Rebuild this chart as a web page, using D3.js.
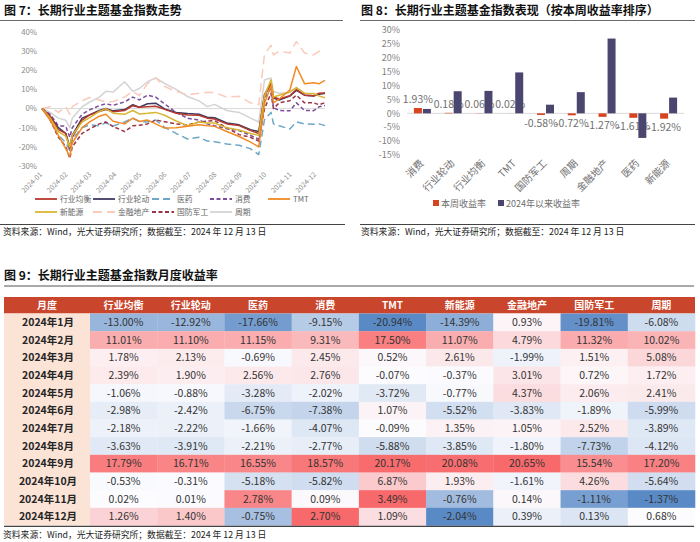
<!DOCTYPE html>
<html><head><meta charset="utf-8">
<script src="https://cdn.jsdelivr.net/npm/d3@7"></script>
<style>
body{margin:0;background:#fff;}
text{font-family:"Noto Sans CJK SC","Noto Sans",sans-serif;}
</style>
</head><body>
<svg id="c" width="700" height="542"></svg>
<script>
// ---------- Figure 7 data: cumulative return (%) ----------
const lineDates = ["2024-01-02","2024-01-12","2024-01-22","2024-01-31","2024-02-05","2024-02-08","2024-02-20","2024-02-29",
 "2024-03-12","2024-03-20","2024-03-29","2024-04-12","2024-04-22","2024-04-30","2024-05-10","2024-05-20","2024-05-31",
 "2024-06-14","2024-06-28","2024-07-12","2024-07-22","2024-07-31","2024-08-15","2024-08-30","2024-09-13","2024-09-23",
 "2024-09-30","2024-10-08","2024-10-11","2024-10-18","2024-10-31","2024-11-08","2024-11-18","2024-11-29","2024-12-06","2024-12-13"];
const seriesNames = ["行业均衡","行业轮动","医药","消费","TMT","新能源","金融地产","国防军工","周期"];
const cumHYJH = [0,-4,-11,-13.0,-21,-15,-6,-3.4,-1.5,-0.5,-1.7,-1.0,1.5,0.7,1.0,1.2,-0.4,-2.5,-3.4,-3.5,-5.0,-5.5,-8.0,-8.9,-11.5,-13.0,7.3,13.5,6.0,5.0,6.7,10.0,7.0,6.7,8.0,8.1];
const cumHYLD = [0,-4,-10,-12.9,-20,-14,-5,-3.3,-1.0,0.0,-1.2,-0.5,2.0,0.7,2.5,2.8,-0.2,-2.0,-2.6,-3.0,-4.5,-4.8,-7.5,-8.5,-11.0,-12.0,6.8,13.0,5.5,4.5,6.5,9.5,7.0,6.5,7.5,8.0];
const cumYY   = [0,-6,-14,-17.7,-22,-16,-10,-8.5,-9.0,-7.5,-9.1,-7.0,-5.0,-6.8,-7.0,-6.0,-9.8,-13.0,-15.9,-15.0,-17.0,-17.3,-18.5,-19.2,-21.0,-24.0,-5.8,-2.0,-8.0,-9.0,-10.7,-7.0,-8.0,-8.2,-8.0,-8.9];
const cumXF   = [0,-3,-9,-9.2,-15,-10,-3,-0.7,1.5,2.5,1.7,3.5,6.0,4.5,7.0,6.0,2.4,-2.0,-5.1,-6.0,-8.0,-9.0,-10.5,-11.5,-14.0,-16.0,4.9,11.0,0.5,-1.0,-1.2,3.0,-1.0,-1.1,1.0,1.6];
const cumTMT  = [0,-6,-14,-20.9,-25,-18,-10,-7.1,-4.0,-3.0,-6.6,-8.0,-5.0,-6.7,-6.0,-8.0,-10.2,-10.0,-9.2,-8.5,-9.0,-9.3,-12.0,-14.6,-17.5,-20.0,2.6,12.0,3.0,5.0,9.7,22.0,13.0,13.5,13.0,14.7];
const cumXNY  = [0,-5,-12,-14.4,-20,-14,-7,-4.9,-1.5,0.0,-2.4,-3.0,-1.0,-2.8,-2.5,-2.0,-3.5,-6.5,-8.9,-7.0,-7.5,-7.6,-10.0,-11.2,-13.0,-14.0,6.6,15.0,6.0,7.0,8.7,11.0,8.0,7.9,6.5,5.7];
const cumJRDC = [0,1,-2,0.9,-3,1,4,5.8,4.5,3.5,3.7,6.0,9.0,6.8,13.0,16.0,11.5,9.0,7.2,8.0,8.5,8.3,6.0,6.4,3.0,2.0,28.3,33.0,28.0,30.0,29.0,35.0,29.0,28.0,30.0,29.0];
const cumGFJG = [0,-6,-15,-19.8,-26,-20,-13,-10.7,-8.0,-7.0,-9.4,-12.0,-9.0,-8.7,-8.0,-6.0,-6.9,-8.0,-8.6,-7.0,-6.5,-6.3,-10.0,-13.6,-15.0,-17.0,-0.1,8.0,0.0,3.0,4.1,7.0,3.0,3.0,2.0,3.1];
const cumZQ   = [0,-2,-5,-6.1,-10,-5,1,3.3,6.0,9.0,8.6,14.0,9.0,10.5,14.0,16.0,13.1,10.0,6.3,4.0,1.0,2.2,-1.0,-2.0,-5.0,-7.0,14.9,16.0,9.0,8.0,8.4,11.0,8.0,6.9,8.0,7.6];
const fig7YTicks = [40,30,20,10,0,-10,-20,-30];
const fig7Months = ["2024-01","2024-02","2024-03","2024-04","2024-05","2024-06","2024-07","2024-08","2024-09","2024-10","2024-11","2024-12"];

// ---------- Figure 8 data ----------
const barCats = ["消费","行业轮动","行业均衡","TMT","国防军工","周期","金融地产","医药","新能源"];
const weekRet = [1.93,0.18,0.06,0.02,-0.58,-0.72,-1.27,-1.61,-1.92];
const ytdRet  = [1.58,7.96,8.08,14.73,3.11,7.63,26.92,-8.85,5.67];
const fig8YTicks = [30,25,20,15,10,5,0,-5,-10,-15];

// ---------- Figure 9 data: monthly returns (%) ----------
const months = ["2024年1月","2024年2月","2024年3月","2024年4月","2024年5月","2024年6月","2024年7月","2024年8月","2024年9月","2024年10月","2024年11月","2024年12月"];
const tableCols = ["行业均衡","行业轮动","医药","消费","TMT","新能源","金融地产","国防军工","周期"];
const mHYJH = [-13.00,11.01,1.78,2.39,-1.06,-2.98,-2.18,-3.63,17.79,-0.53,0.02,1.26];
const mHYLD = [-12.92,11.10,2.13,1.90,-0.88,-2.42,-2.22,-3.91,16.71,-0.31,0.01,1.40];
const mYY   = [-17.66,11.15,-0.69,2.56,-3.28,-6.75,-1.66,-2.21,16.55,-5.18,2.78,-0.75];
const mXF   = [-9.15,9.31,2.45,2.76,-2.02,-7.38,-4.07,-2.77,18.57,-5.82,0.09,2.70];
const mTMT  = [-20.94,17.50,0.52,-0.07,-3.72,1.07,-0.09,-5.88,20.17,6.87,3.49,1.09];
const mXNY  = [-14.39,11.07,2.61,-0.37,-0.77,-5.52,1.35,-3.85,20.08,1.93,-0.76,-2.04];
const mJRDC = [0.93,4.79,-1.99,3.01,4.37,-3.83,1.05,-1.80,20.65,-1.61,0.14,0.39];
const mGFJG = [-19.81,11.32,1.51,0.72,2.06,-1.89,2.52,-7.73,15.54,4.26,-1.11,0.13];
const mZQ   = [-6.08,10.02,5.08,1.72,2.41,-5.99,-3.89,-4.12,17.20,-5.64,-1.37,0.68];

const sourceText = "资料来源：Wind，光大证券研究所；数据截至：2024 年 12 月 13 日";

// ---------- drawing ----------
const svg = d3.select("#c");
svg.append("rect").attr("width",700).attr("height",542).attr("fill","#fff");

function titleBlock(x, y, txt){
  svg.append("text").attr("x",x).attr("y",y).attr("font-size",12).attr("font-weight","bold").attr("fill","#111").text(txt);
}
function rule(x1,x2,y,col,wd){
  svg.append("line").attr("x1",x1).attr("x2",x2).attr("y1",y).attr("y2",y).attr("stroke",col).attr("stroke-width",wd);
}
function source(x,y){
  svg.append("text").attr("x",x).attr("y",y).attr("font-size",8.8).attr("fill","#222").text(sourceText);
}

// ===== Figure 7 =====
titleBlock(4,15,"图 7：长期行业主题基金指数走势");
rule(0,343,20.5,"#6b6b6b",1);
const parse = d3.timeParse("%Y-%m-%d");
const dts = lineDates.map(parse);
const x7 = d3.scaleTime().domain([dts[0], dts[dts.length-1]]).range([42,325]);
const y7 = d3.scaleLinear().domain([-30,40]).range([166,32]);
const g7 = svg.append("g");
g7.selectAll("text.yt").data(fig7YTicks).enter().append("text")
  .attr("x",37).attr("y",d=>y7(d)+2.8).attr("text-anchor","end").attr("font-size",7.8).attr("fill","#8a8a8a")
  .text(d=>d+"%");
g7.append("line").attr("x1",42).attr("x2",325).attr("y1",y7(0)).attr("y2",y7(0)).attr("stroke","#d9d9d9").attr("stroke-width",1);
g7.selectAll("text.xt").data(fig7Months).enter().append("text")
  .attr("text-anchor","end").attr("font-size",7).attr("fill","#8a8a8a")
  .attr("transform",d=>{const xx=x7(d3.timeParse("%Y-%m")(d))+1.5; return `translate(${xx},175) rotate(-45)`;})
  .text(d=>d);

const seriesData = [cumHYJH,cumHYLD,cumYY,cumXF,cumTMT,cumXNY,cumJRDC,cumGFJG,cumZQ];
const seriesStyle = [
  {c:"#b8372b",d:null},{c:"#3e3a60",d:null},{c:"#6ea7c6",d:"7,4"},{c:"#7b4d9b",d:"4,2.5"},
  {c:"#f28a24",d:null},{c:"#d8b632",d:null},{c:"#f8cbbb",d:"9,5"},{c:"#9b3446",d:"4,2.5"},{c:"#d4d4d4",d:null}
];
const drawOrder = [8,6,2,7,3,1,0,5,4];
const lineGen = d3.line().x((d,i)=>x7(dts[i])).y(d=>y7(d));
drawOrder.forEach(k=>{
  g7.append("path").attr("d",lineGen(seriesData[k])).attr("fill","none")
    .attr("stroke",seriesStyle[k].c).attr("stroke-width",1.5)
    .attr("stroke-dasharray",seriesStyle[k].d).attr("stroke-linejoin","round");
});
// legend
const legPos = [[35,199],[93,199],[152,199],[210,199],[268,199],[35,212],[93,212],[152,212],[210,212]];
seriesNames.forEach((n,k)=>{
  const [lx,ly]=legPos[k];
  g7.append("line").attr("x1",lx).attr("x2",lx+22).attr("y1",ly).attr("y2",ly)
    .attr("stroke",seriesStyle[k].c).attr("stroke-width",1.8).attr("stroke-dasharray",seriesStyle[k].d);
  g7.append("text").attr("x",lx+25).attr("y",ly+2.8).attr("font-size",7.8).attr("fill","#666").text(n);
});
rule(0,345,224.5,"#444",1.2);
source(3,235);

// ===== Figure 8 =====
titleBlock(361,15,"图 8：长期行业主题基金指数表现（按本周收益率排序）");
rule(360,695,20.5,"#6b6b6b",1);
const x8 = d3.scaleBand().domain(barCats).range([407,684]).paddingInner(0).paddingOuter(0);
const y8 = d3.scaleLinear().domain([-15,30]).range([155,30]);
const g8 = svg.append("g");
g8.selectAll("text.yt").data(fig8YTicks).enter().append("text")
  .attr("x",400).attr("y",d=>y8(d)+3.2).attr("text-anchor","end").attr("font-size",9).attr("fill","#7f7f7f")
  .text(d=>d+"%");
g8.append("line").attr("x1",407).attr("x2",684).attr("y1",y8(0)).attr("y2",y8(0)).attr("stroke","#d9d9d9").attr("stroke-width",1);
const bw = 8;
const cx = c => x8(c)+x8.bandwidth()/2;
g8.selectAll("rect.wk").data(barCats).enter().append("rect")
  .attr("x",(c)=>cx(c)-bw-0.5).attr("width",bw)
  .attr("y",(c,i)=>y8(Math.max(0,weekRet[i]))).attr("height",(c,i)=>Math.abs(y8(weekRet[i])-y8(0)))
  .attr("fill","#d6451f");
g8.selectAll("text.lb").data(barCats).enter().append("text")
  .attr("x",c=>cx(c)-bw/2-0.5)
  .attr("y",(c,i)=>weekRet[i]>=0 ? y8(weekRet[i])-5 : y8(weekRet[i])+12)
  .attr("text-anchor","middle").attr("font-size",10.5).attr("fill","#6f6f6f")
  .text((c,i)=>weekRet[i].toFixed(2)+"%");
g8.selectAll("rect.ytd").data(barCats).enter().append("rect")
  .attr("x",(c)=>cx(c)+0.5).attr("width",bw)
  .attr("y",(c,i)=>y8(Math.max(0,ytdRet[i]))).attr("height",(c,i)=>Math.abs(y8(ytdRet[i])-y8(0)))
  .attr("fill","#4a4670");
g8.selectAll("text.xt").data(barCats).enter().append("text")
  .attr("text-anchor","end").attr("font-size",10).attr("fill","#6f6f6f")
  .attr("transform",c=>`translate(${cx(c)+2},164) rotate(-45)`).text(c=>c);
// legend
g8.append("rect").attr("x",433).attr("y",200).attr("width",6).attr("height",6).attr("fill","#d6451f");
g8.append("text").attr("x",441).attr("y",206.5).attr("font-size",9).attr("fill","#6f6f6f").text("本周收益率");
g8.append("rect").attr("x",498).attr("y",200).attr("width",6).attr("height",6).attr("fill","#4a4670");
g8.append("text").attr("x",506).attr("y",206.5).attr("font-size",9).attr("fill","#6f6f6f").text("2024年以来收益率");
rule(360,695,224.5,"#444",1.2);
source(361,235);

// ===== Figure 9 =====
titleBlock(4,280,"图 9：长期行业主题基金指数月度收益率");
rule(4,694,286,"#555",1);
const colData = [mHYJH,mHYLD,mYY,mXF,mTMT,mXNY,mJRDC,mGFJG,mZQ];
const tx0 = 4, firstW = 86, tx1 = 695;
const xc = d3.scaleBand().domain(tableCols).range([tx0+firstW, tx1]);
const headTop = 297, headH = 16.5;
const yr = d3.scaleBand().domain(months).range([headTop+headH, 525.5]);
const g9 = svg.append("g");
// header
g9.append("rect").attr("x",tx0).attr("y",headTop).attr("width",tx1-tx0).attr("height",headH).attr("fill","#c9452c");
g9.append("text").attr("x",tx0+firstW/2).attr("y",headTop+headH/2+3.6).attr("text-anchor","middle")
  .attr("font-size",10).attr("font-weight","bold").attr("fill","#fff").text("月度");
g9.selectAll("text.hd").data(tableCols).enter().append("text")
  .attr("x",c=>xc(c)+xc.bandwidth()/2).attr("y",headTop+headH/2+3.6).attr("text-anchor","middle")
  .attr("font-size",10).attr("font-weight","bold").attr("fill","#fff").text(c=>c);
// first column
g9.append("rect").attr("x",tx0).attr("y",headTop+headH).attr("width",firstW).attr("height",525.5-headTop-headH).attr("fill","#fbe3d6");
g9.selectAll("text.mo").data(months).enter().append("text")
  .attr("x",tx0+firstW/2+1).attr("y",m=>yr(m)+yr.bandwidth()/2+3.7).attr("text-anchor","middle")
  .attr("font-size",10.5).attr("font-weight","bold").attr("fill","#262626").text(m=>m);
// colour scales: rows 1-10 share one 3-colour scale, rows 11 and 12 each their own
const rowVals = months.map((m,i)=>colData.map(a=>a[i]));
const groups = [[0,1,2,3,4,5,6,7,8,9],[10],[11]];
const rowScale = [];
groups.forEach(gr=>{
  const vals = gr.flatMap(i=>rowVals[i]);
  const sc = d3.scaleLinear().domain([d3.min(vals), d3.median(vals), d3.max(vals)])
    .range(["#5a8ac6","#fcfcff","#f8696b"]).interpolate(d3.interpolateRgb);
  gr.forEach(i=>rowScale[i]=sc);
});
months.forEach((m,i)=>{
  tableCols.forEach((c,j)=>{
    const v = colData[j][i];
    g9.append("rect").attr("x",xc(c)).attr("y",yr(m)).attr("width",xc.bandwidth()+0.3).attr("height",yr.bandwidth()+0.3)
      .attr("fill",rowScale[i](v));
    g9.append("text").attr("x",xc(c)+xc.bandwidth()/2).attr("y",yr(m)+yr.bandwidth()/2+3.7)
      .attr("text-anchor","middle").attr("font-size",10.5).attr("fill","#333").text(v.toFixed(2)+"%");
  });
});
rule(4,694,526.3,"#444",1.3);
source(3,538);
</script>
</body></html>
